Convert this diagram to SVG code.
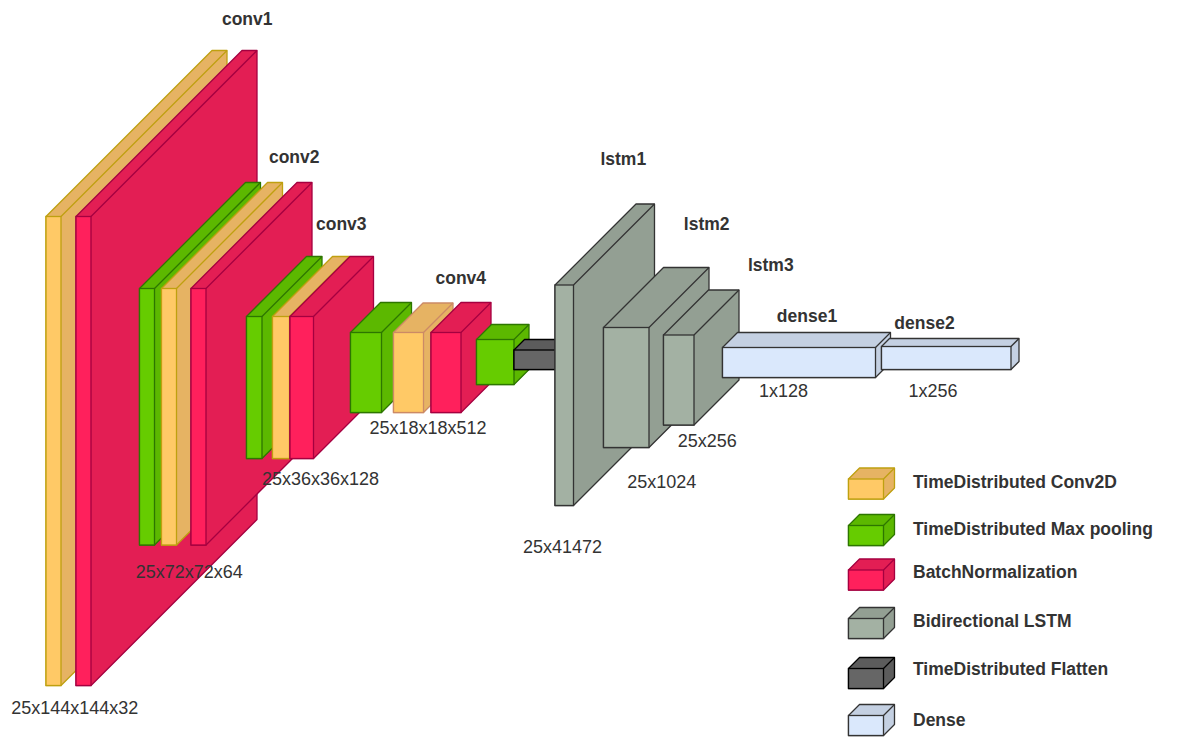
<svg xmlns="http://www.w3.org/2000/svg" width="1178" height="737" viewBox="0 0 1178 737">
<defs>
<style>
.lbl{font-family:"Liberation Sans",Arial,sans-serif;font-size:17.5px;font-weight:bold;fill:#333;text-anchor:middle}
.dim{font-family:"Liberation Sans",Arial,sans-serif;font-size:18px;fill:#333;text-anchor:middle}
.leg{font-family:"Liberation Sans",Arial,sans-serif;font-size:17.5px;font-weight:bold;fill:#333}
.ys{fill:#E6B363;stroke:#BFA010;stroke-width:1.3;stroke-linejoin:round}
.yf{fill:#FFC966;stroke:#BFA010;stroke-width:1.3}
.ys2{fill:#E6B363;stroke:#CC8A66;stroke-width:1.3;stroke-linejoin:round}
.yf2{fill:#FFC966;stroke:#CC8A66;stroke-width:1.3}
.rs{fill:#E31E54;stroke:#A50040;stroke-width:1.3;stroke-linejoin:round}
.rf{fill:#FF205C;stroke:#A50040;stroke-width:1.3}
.gs{fill:#5CB800;stroke:#2D7600;stroke-width:1.3;stroke-linejoin:round}
.gf{fill:#66CC00;stroke:#2D7600;stroke-width:1.3}
.ls{fill:#939F93;stroke:#333;stroke-width:1.3;stroke-linejoin:round}
.lf{fill:#A3B1A3;stroke:#333;stroke-width:1.3}
.fs{fill:#5C5C5C;stroke:#000;stroke-width:1.3;stroke-linejoin:round}
.ff{fill:#666;stroke:#000;stroke-width:1.3}
.ds{fill:#C4D0E2;stroke:#333;stroke-width:1.3;stroke-linejoin:round}
.df{fill:#DAE8FC;stroke:#333;stroke-width:1.3}
</style>
</defs>
<rect width="1178" height="737" fill="#fff"/>

<g id="conv1-conv2d">
<polygon class="ys" points="46,216.5 212,50.5 227,50.5 227,519.5 61,685.5 46,685.5"/>
<rect class="yf" x="46" y="216.5" width="15" height="469"/>
<line class="ys" x1="61" y1="216.5" x2="227" y2="50.5"/>
</g>
<g id="conv1-bn">
<polygon class="rs" points="76,216.5 242,50.5 257,50.5 257,519.5 91,685.5 76,685.5"/>
<rect class="rf" x="76" y="216.5" width="15" height="469"/>
<line class="rs" x1="91" y1="216.5" x2="257" y2="50.5"/>
</g>

<g id="conv2-pool">
<polygon class="gs" points="139.5,288.5 245.5,182.5 260.5,182.5 260.5,439 154.5,545 139.5,545"/>
<rect class="gf" x="139.5" y="288.5" width="15" height="256.5"/>
<line class="gs" x1="154.5" y1="288.5" x2="260.5" y2="182.5"/>
</g>
<g id="conv2-conv2d">
<polygon class="ys" points="161.5,288.5 267.5,182.5 282.5,182.5 282.5,439 176.5,545 161.5,545"/>
<rect class="yf" x="161.5" y="288.5" width="15" height="256.5"/>
<line class="ys" x1="176.5" y1="288.5" x2="282.5" y2="182.5"/>
</g>
<g id="conv2-bn">
<polygon class="rs" points="191,288.5 297,182.5 312,182.5 312,439 206,545 191,545"/>
<rect class="rf" x="191" y="288.5" width="15" height="256.5"/>
<line class="rs" x1="206" y1="288.5" x2="312" y2="182.5"/>
</g>

<g id="conv3-pool">
<polygon class="gs" points="246.5,316.5 306.5,256.5 322,256.5 322,398.5 262,458.5 246.5,458.5"/>
<rect class="gf" x="246.5" y="316.5" width="15.5" height="142"/>
<line class="gs" x1="262" y1="316.5" x2="322" y2="256.5"/>
</g>
<g id="conv3-conv2d">
<polygon class="ys" points="272.5,316.5 332.5,256.5 349.5,256.5 349.5,398.5 289.5,458.5 272.5,458.5"/>
<rect class="yf" x="272.5" y="316.5" width="17" height="142"/>
<line class="ys" x1="289.5" y1="316.5" x2="349.5" y2="256.5"/>
</g>
<g id="conv3-bn">
<polygon class="rs" points="290,316.5 350,256.5 373.5,256.5 373.5,398.5 313.5,458.5 290,458.5"/>
<rect class="rf" x="290" y="316.5" width="23.5" height="142"/>
<line class="rs" x1="313.5" y1="316.5" x2="373.5" y2="256.5"/>
</g>

<g id="conv4-pool">
<polygon class="gs" points="350.5,332.5 380.5,302.5 411.5,302.5 411.5,382.5 381.5,412.5 350.5,412.5"/>
<rect class="gf" x="350.5" y="332.5" width="31" height="80"/>
<line class="gs" x1="381.5" y1="332.5" x2="411.5" y2="302.5"/>
</g>
<g id="conv4-conv2d">
<polygon class="ys2" points="393.5,332.5 423,303 453,303 453,383 423.5,412.5 393.5,412.5"/>
<rect class="yf2" x="393.5" y="332.5" width="30" height="80"/>
<line class="ys2" x1="423.5" y1="332.5" x2="453" y2="303"/>
</g>
<g id="conv4-bn">
<polygon class="rs" points="431,332.5 461,302.5 491,302.5 491,382.5 461,412.5 431,412.5"/>
<rect class="rf" x="431" y="332.5" width="30" height="80"/>
<line class="rs" x1="461" y1="332.5" x2="491" y2="302.5"/>
</g>
<g id="pool5">
<polygon class="gs" points="476.5,339.5 491.5,324.5 529,324.5 529,369.5 514,384.5 476.5,384.5"/>
<rect class="gf" x="476.5" y="339.5" width="37.5" height="45"/>
<line class="gs" x1="514" y1="339.5" x2="529" y2="324.5"/>
</g>
<g id="flatten">
<polygon class="fs" points="514,350 524.5,339.5 569.5,339.5 569.5,359 559,369.5 514,369.5"/>
<rect class="ff" x="514" y="350" width="45" height="19.5"/>
<line class="fs" x1="559" y1="350" x2="569.5" y2="339.5"/>
</g>

<g id="lstm1">
<polygon class="ls" points="555,285 636,204 654.5,204 654.5,424.5 573.5,505.5 555,505.5"/>
<rect class="lf" x="555" y="285" width="18.5" height="220.5"/>
<line class="ls" x1="573.5" y1="285" x2="654.5" y2="204"/>
</g>
<g id="lstm2">
<polygon class="ls" points="603.5,327.5 663.5,267.5 709,267.5 709,387.5 649,447.5 603.5,447.5"/>
<rect class="lf" x="603.5" y="327.5" width="45.5" height="120"/>
<line class="ls" x1="649" y1="327.5" x2="709" y2="267.5"/>
</g>
<g id="lstm3">
<polygon class="ls" points="663.5,335 708.5,290 739,290 739,380 694,425 663.5,425"/>
<rect class="lf" x="663.5" y="335" width="30.5" height="90"/>
<line class="ls" x1="694" y1="335" x2="739" y2="290"/>
</g>
<g id="dense1">
<polygon class="ds" points="722.5,347.5 737.5,332.5 890.5,332.5 890.5,362.5 875.5,377.5 722.5,377.5"/>
<rect class="df" x="722.5" y="347.5" width="153" height="30"/>
<line class="ds" x1="875.5" y1="347.5" x2="890.5" y2="332.5"/>
</g>
<g id="dense2">
<polygon class="ds" points="881.5,346.5 889.5,338.5 1019,338.5 1019,361.5 1011,369.5 881.5,369.5"/>
<rect class="df" x="881.5" y="346.5" width="129.5" height="23"/>
<line class="ds" x1="1011" y1="346.5" x2="1019" y2="338.5"/>
</g>

<g id="connectors"></g>

<g id="labels">
<text class="lbl" x="247.2" y="24.5">conv1</text>
<text class="lbl" x="294.2" y="163">conv2</text>
<text class="lbl" x="341.3" y="230">conv3</text>
<text class="lbl" x="460.8" y="284">conv4</text>
<text class="lbl" x="623.3" y="165">lstm1</text>
<text class="lbl" x="706.7" y="230">lstm2</text>
<text class="lbl" x="770.8" y="270.7">lstm3</text>
<text class="lbl" x="807" y="321.7">dense1</text>
<text class="lbl" x="924.5" y="329.3">dense2</text>
<text class="dim" x="74.7" y="713.5">25x144x144x32</text>
<text class="dim" x="189.3" y="577.7">25x72x72x64</text>
<text class="dim" x="320.5" y="485">25x36x36x128</text>
<text class="dim" x="428" y="434.3">25x18x18x512</text>
<text class="dim" x="562.5" y="553.3">25x41472</text>
<text class="dim" x="661.8" y="488.3">25x1024</text>
<text class="dim" x="707.2" y="447.3">25x256</text>
<text class="dim" x="783.5" y="396.7">1x128</text>
<text class="dim" x="933" y="396.7">1x256</text>
</g>

<g id="legend-conv2d">
<polygon class="ys" points="848.5,479 859.5,468 894.5,468 894.5,488 883.5,499 848.5,499"/>
<rect class="yf" x="848.5" y="479" width="35" height="20"/>
<line class="ys" x1="883.5" y1="479" x2="894.5" y2="468"/>
<text class="leg" x="913" y="488">TimeDistributed Conv2D</text>
</g>
<g id="legend-pool">
<polygon class="gs" points="848.5,525.5 859.5,514.5 894.5,514.5 894.5,534.5 883.5,545.5 848.5,545.5"/>
<rect class="gf" x="848.5" y="525.5" width="35" height="20"/>
<line class="gs" x1="883.5" y1="525.5" x2="894.5" y2="514.5"/>
<text class="leg" x="913" y="535">TimeDistributed Max pooling</text>
</g>
<g id="legend-bn">
<polygon class="rs" points="848.5,570 859.5,559 894.5,559 894.5,579 883.5,590 848.5,590"/>
<rect class="rf" x="848.5" y="570" width="35" height="20"/>
<line class="rs" x1="883.5" y1="570" x2="894.5" y2="559"/>
<text class="leg" x="913" y="578">BatchNormalization</text>
</g>
<g id="legend-lstm">
<polygon class="ls" points="848.5,618.5 859.5,607.5 894.5,607.5 894.5,627.5 883.5,638.5 848.5,638.5"/>
<rect class="lf" x="848.5" y="618.5" width="35" height="20"/>
<line class="ls" x1="883.5" y1="618.5" x2="894.5" y2="607.5"/>
<text class="leg" x="913" y="626.5">Bidirectional LSTM</text>
</g>
<g id="legend-flatten">
<polygon class="fs" points="848.5,668.5 859.5,657.5 894.5,657.5 894.5,677.5 883.5,688.5 848.5,688.5"/>
<rect class="ff" x="848.5" y="668.5" width="35" height="20"/>
<line class="fs" x1="883.5" y1="668.5" x2="894.5" y2="657.5"/>
<text class="leg" x="913" y="675">TimeDistributed Flatten</text>
</g>
<g id="legend-dense">
<polygon class="ds" points="848.5,715.5 859.5,704.5 894.5,704.5 894.5,724.5 883.5,735.5 848.5,735.5"/>
<rect class="df" x="848.5" y="715.5" width="35" height="20"/>
<line class="ds" x1="883.5" y1="715.5" x2="894.5" y2="704.5"/>
<text class="leg" x="913" y="726">Dense</text>
</g>
</svg>
